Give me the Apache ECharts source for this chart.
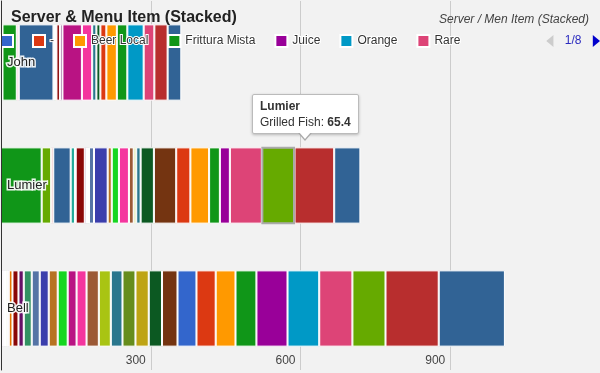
<!DOCTYPE html>
<html><head><meta charset="utf-8">
<script src="https://cdn.jsdelivr.net/npm/echarts@6/dist/echarts.min.js"></script>
<style>html,body{margin:0;padding:0;background:#f2f2f2}#c{width:600px;height:373px}</style>
</head><body><div id="c"></div>
<script>
const servers = ['John', 'Lumier', 'Bell'];
const menuItems = ['\u200b', '-', 'Beer Local', 'Frittura Mista', 'Juice', 'Orange', 'Rare', 'Well Done',
  'Medium', 'Water', 'Espresso', 'Latte', 'Lemonade', 'Iced Tea', 'Red Wine',
  'Wine', 'Prosecco', 'Bread', 'Caesar', 'Caprese', 'Soup',
  'Calamari', 'Margherita', 'Diavola', 'Carbonara', 'Penne',
  'Lasagna', 'Risotto', 'Gnocchi', 'Osso Buco', 'Chicken',
  'Tenderloin', 'Linguine', 'Veal', 'Lamb', 'Tiramisu', 'Panna Cotta',
  'Cannoli', 'Grilled Fish', 'Ribeye', 'Gelato'];
const johnSales = [0, 0, 3, 28.6, 0, 0, 4, 0, 0, 69.5, 0, 3, 3, 0, 0, 7, 5, 0, 0, 0, 0, 0, 39, 20.6, 0, 0, 8.4, 0, 0, 8, 0, 0, 12, 21, 21, 0, 32.7, 21.4, 0, 26.6, 27.4];
const lumierSales = [0, 0, 0, 81.5, 0, 0, 0, 19, 4.2, 34.9, 0, 8.6, 0, 1.5, 0, 18.2, 4.4, 4, 10, 27.4, 8.2, 14.4, 0, 20, 9.6, 5, 8.8, 0, 0, 26.6, 44.7, 0, 28.4, 37.5, 21.6, 20, 0, 64.1, 65.4, 79.5, 52.5];
const bellSales = [2.5, 0, 0, 0, 2.5, 0, 0, 0, 0, 0, 3, 2.5, 2.5, 2.6, 7.4, 12, 10.6, 16, 16, 18, 18, 20, 17.8, 20, 24.6, 24, 23.4, 26, 26.6, 26.6, 31, 38, 38.5, 39.7, 41.9, 62.3, 63.5, 66.5, 66.3, 106.6, 132.6];
const valueAxisMax = 1200;
const valueAxisStep = 300;
const focusServer = 'Lumier';
const focusItem = 'Grilled Fish';

const palette = ['#3366cc','#dc3912','#ff9900','#109618','#990099','#0099c6','#dd4477','#66aa00','#b82e2e','#316395',
  '#994499','#22aa99','#aaaa11','#6633cc','#e67300','#8b0707','#651067','#329262','#5574a6','#3b3eac',
  '#b77322','#16d620','#b91383','#f4359e','#9c5935','#a9c413','#2a778d','#668d1c','#bea413','#0c5922','#743411'];
const FONT = 'Arial, "Liberation Sans", sans-serif';

const chart = echarts.init(document.getElementById('c'), null, {renderer: 'canvas'});
const series = menuItems.map((name, i) => ({
  type: 'bar',
  name: name,
  stack: 'total',
  barCategoryGap: '38%',
  data: [johnSales[i], lumierSales[i], bellSales[i]].map(v => v ? v : '-'),
  itemStyle: {color: palette[i % palette.length], borderColor: '#fff', borderWidth: 1},
  emphasis: {focus: 'none', itemStyle: {color: palette[i % palette.length], borderColor: '#aaa', borderWidth: 2}}
}));

chart.setOption({
  animation: false,
  backgroundColor: '#f2f2f2',
  color: palette,
  textStyle: {fontFamily: FONT},
  title: [
    {text: 'Server & Menu Item (Stacked)', left: 11, top: 10, padding: 0,
     textStyle: {fontSize: 16, fontWeight: 'bold', color: '#222', fontFamily: FONT}},
    {text: 'Server / Men Item (Stacked)', right: 11, top: 14, padding: 0,
     textStyle: {fontSize: 12, fontWeight: 'normal', fontStyle: 'italic', color: '#444', fontFamily: FONT}}
  ],
  legend: {
    type: 'scroll', orient: 'horizontal', left: 0, right: 2, top: 34, padding: 0,
    itemGap: 18, itemWidth: 12, itemHeight: 12, icon: 'rect',
    formatter: name => name === '\u200b' ? '' : name,
    textStyle: {fontSize: 12, color: '#333', fontFamily: FONT, textBorderColor: '#fff', textBorderWidth: 2},
    pageIconColor: '#0000cc', pageIconInactiveColor: '#ccc', pageIconSize: [10, 12],
    pageTextStyle: {color: '#2b2bbf', fontSize: 12, fontFamily: FONT}, pageButtonItemGap: 6, pageButtonGap: 75
  },
  tooltip: {
    trigger: 'item', transitionDuration: 0, backgroundColor: '#fff', borderColor: '#bbb', borderWidth: 1,
    padding: [3, 7], textStyle: {fontSize: 12, color: '#333', fontFamily: FONT},
    extraCssText: 'box-shadow:0 1px 3px rgba(0,0,0,0.25);border-radius:2px;overflow:visible;',
    formatter: p => '<div style="line-height:16px"><b>' + servers[p.dataIndex] + '</b><br/>' + p.seriesName +
      ': <b>' + p.value + '</b></div>' +
      '<div style="position:absolute;left:45px;top:100%;width:0;height:0;border-left:7px solid transparent;' +
      'border-right:7px solid transparent;border-top:8px solid #aaa;"></div>' +
      '<div style="position:absolute;left:46px;top:100%;margin-top:-1px;width:0;height:0;border-left:6px solid transparent;' +
      'border-right:6px solid transparent;border-top:7px solid #fff;"></div>',
    position: function (pt, params, dom, rect, size) {
      if (rect) return [rect.x - 10, rect.y - size.contentSize[1] - 13];
      return [pt[0] - 20, pt[1] - size.contentSize[1] - 50];
    }
  },
  grid: {left: 1, right: 0, top: 1, bottom: 3, containLabel: false},
  xAxis: {
    type: 'value', min: 0, max: valueAxisMax, interval: valueAxisStep,
    axisLine: {show: false}, axisTick: {show: false},
    splitLine: {show: true, lineStyle: {color: '#ccc', width: 1}},
    axisLabel: {inside: true, align: 'right', padding: [0, 5, 0, 0], margin: 3, color: '#444',
      fontSize: 12, fontFamily: FONT, showMinLabel: false, showMaxLabel: false}
  },
  yAxis: {
    type: 'category', data: servers, inverse: true, z: 10,
    axisLine: {show: true, lineStyle: {color: '#333', width: 1}}, axisTick: {show: false},
    splitLine: {show: false},
    axisLabel: {inside: true, margin: 6, color: '#222', fontSize: 13, fontFamily: FONT,
      textBorderColor: 'rgba(255,255,255,0.9)', textBorderWidth: 3}
  },
  series: series
});

const si = menuItems.indexOf(focusItem);
const di = servers.indexOf(focusServer);
chart.dispatchAction({type: 'highlight', seriesIndex: si, dataIndex: di});
chart.dispatchAction({type: 'showTip', seriesIndex: si, dataIndex: di});
</script>
</body></html>
